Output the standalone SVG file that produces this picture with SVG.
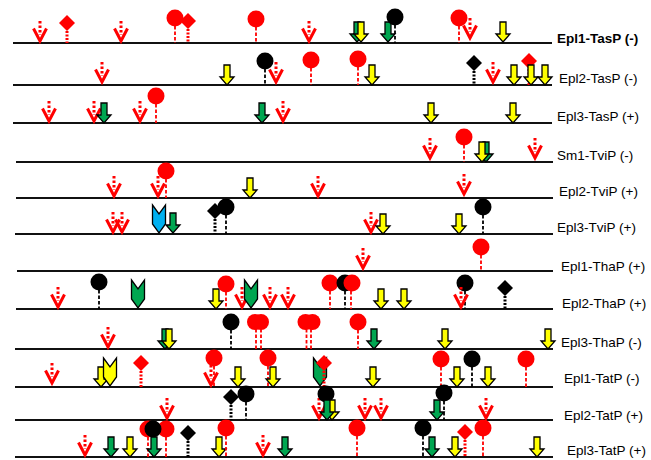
<svg xmlns="http://www.w3.org/2000/svg" width="651" height="460" viewBox="0 0 651 460">
<style>
.ln{stroke:#111;stroke-width:2}
.lb{font-family:"Liberation Sans",Arial,sans-serif;font-size:13.5px;fill:#000}
.rst{stroke:#f00;stroke-width:1.8;stroke-dasharray:3.5 2}
.kst{stroke:#000;stroke-width:1.8;stroke-dasharray:3.5 2}
.rdt{stroke:#f00;stroke-width:3;stroke-dasharray:2 1.5}
.kdt{stroke:#000;stroke-width:3;stroke-dasharray:2 1.5}
.rf{fill:#f00}
.kf{fill:#000}
</style>
<defs>
<path id="ya" d="M-3,-20H3V-8H7L0,0L-7,-8H-3Z" fill="#ffff00" stroke="#000" stroke-width="1.3"/>
<path id="ga" d="M-3,-20H3V-8H7L0,0L-7,-8H-3Z" fill="#00a651" stroke="#000" stroke-width="1.3"/>
<g id="ra"><line x1="0" y1="-22" x2="0" y2="-8" stroke="#f00" stroke-width="3" stroke-dasharray="2.5 2"/><path d="M-6.5,-14.5L0,-2L6.5,-14.5" fill="none" stroke="#f00" stroke-width="3"/></g>
<path id="chev" d="M-6.5,-28L0,-19L6.5,-28V-9L0,0L-6.5,-9Z" stroke="#000" stroke-width="1.3"/>
<path id="dm" d="M0,-8L8,0L0,8L-8,0Z"/>
</defs>

<g id="baselines">
<line class="ln" x1="13" y1="43" x2="552" y2="43"/>
<line class="ln" x1="13" y1="85" x2="552" y2="85"/>
<line class="ln" x1="13" y1="123" x2="552" y2="123"/>
<line class="ln" x1="16" y1="162" x2="553" y2="162"/>
<line class="ln" x1="16" y1="198" x2="553" y2="198"/>
<line class="ln" x1="15" y1="234" x2="553" y2="234"/>
<line class="ln" x1="17" y1="271" x2="553" y2="271"/>
<line class="ln" x1="16" y1="309" x2="553" y2="309"/>
<line class="ln" x1="15" y1="349" x2="553" y2="349"/>
<line class="ln" x1="15" y1="387" x2="553" y2="387"/>
<line class="ln" x1="15" y1="420" x2="553" y2="420"/>
<line class="ln" x1="15" y1="457" x2="553" y2="457"/>
</g>

<g id="row1">
<text class="lb" x="557" y="43" font-weight="bold">Epl1-TasP (-)</text>
<use href="#ra" x="40" y="43"/>
<line class="rdt" x1="67" y1="31" x2="67" y2="43"/><use href="#dm" x="67" y="23" fill="#f00"/>
<use href="#ra" x="121" y="43"/>
<line class="rst" x1="175" y1="26" x2="175" y2="43"/><circle class="rf" cx="175" cy="18" r="8.5"/>
<line class="rdt" x1="188" y1="29" x2="188" y2="43"/><use href="#dm" x="188" y="21" fill="#f00"/>
<line class="rst" x1="256" y1="27" x2="256" y2="43"/><circle class="rf" cx="256" cy="19" r="8.5"/>
<use href="#ra" x="309" y="43"/>
<use href="#ga" x="357" y="42"/><use href="#ya" x="361" y="42"/>
<use href="#ga" x="388" y="42"/>
<line class="kst" x1="395" y1="25" x2="395" y2="43"/><circle class="kf" cx="395" cy="17" r="8.5"/>
<line class="rst" x1="459" y1="26" x2="459" y2="43"/><circle class="rf" cx="459" cy="18" r="8.5"/>
<use href="#ra" x="470" y="40"/>
<use href="#ya" x="503" y="42"/>
</g>

<g id="row2">
<text class="lb" x="559" y="83">Epl2-TasP (-)</text>
<use href="#ra" x="102" y="84"/>
<use href="#ya" x="227" y="85"/>
<line class="kst" x1="265" y1="69" x2="265" y2="85"/><circle class="kf" cx="265" cy="61" r="8.5"/>
<use href="#ra" x="276" y="84"/>
<line class="rst" x1="311" y1="68" x2="311" y2="85"/><circle class="rf" cx="311" cy="60" r="8.5"/>
<line class="rst" x1="358" y1="67" x2="358" y2="85"/><circle class="rf" cx="358" cy="59" r="8.5"/>
<use href="#ya" x="372" y="85"/>
<line class="kdt" x1="474" y1="71" x2="474" y2="85"/><use href="#dm" x="474" y="63" fill="#000"/>
<use href="#ra" x="493" y="84"/>
<use href="#ya" x="514" y="85"/>
<line class="rdt" x1="529" y1="69" x2="529" y2="85"/><use href="#dm" x="529" y="61" fill="#f00"/>
<use href="#ya" x="531" y="85"/>
<use href="#ya" x="545" y="85"/>
</g>

<g id="row3">
<text class="lb" x="557" y="121">Epl3-TasP (+)</text>
<use href="#ra" x="49" y="123"/>
<use href="#ra" x="94" y="123"/>
<use href="#ga" x="104" y="123"/>
<use href="#ra" x="140" y="123"/>
<line class="rst" x1="156" y1="104" x2="156" y2="123"/><circle class="rf" cx="156" cy="96" r="8.5"/>
<use href="#ga" x="262" y="123"/>
<use href="#ra" x="283" y="123"/>
<use href="#ya" x="431" y="123"/>
<use href="#ya" x="513" y="123"/>
</g>

<g id="row4">
<text class="lb" x="557" y="160">Sm1-TviP (-)</text>
<use href="#ra" x="430" y="160"/>
<line class="rst" x1="464" y1="145" x2="464" y2="162"/><circle class="rf" cx="464" cy="137" r="8.5"/>
<use href="#ga" x="486" y="162"/><use href="#ya" x="482" y="162"/>
<use href="#ra" x="535" y="160"/>
</g>

<g id="row5">
<text class="lb" x="559" y="196">Epl2-TviP (+)</text>
<use href="#ra" x="114" y="198"/>
<use href="#ra" x="158" y="198"/>
<line class="rst" x1="166" y1="179" x2="166" y2="198"/><circle class="rf" cx="166" cy="171" r="8.5"/>
<use href="#ya" x="250" y="198"/>
<use href="#ra" x="318" y="198"/>
<use href="#ra" x="464" y="196"/>
</g>

<g id="row6">
<text class="lb" x="557" y="232">Epl3-TviP (+)</text>
<use href="#ra" x="113" y="234"/>
<use href="#ra" x="122" y="234"/>
<use href="#chev" x="159" y="233" fill="#00b0f0"/>
<use href="#ga" x="173" y="233"/>
<line class="kdt" x1="215" y1="219" x2="215" y2="234"/><use href="#dm" x="215" y="211" fill="#000"/>
<line class="kst" x1="226" y1="215" x2="226" y2="234"/><circle class="kf" cx="226" cy="207" r="8.5"/>
<use href="#ra" x="371" y="234"/>
<use href="#ya" x="383" y="234"/>
<use href="#ya" x="459" y="234"/>
<line class="kst" x1="483" y1="215" x2="483" y2="234"/><circle class="kf" cx="483" cy="207" r="8.5"/>
</g>

<g id="row7">
<text class="lb" x="561" y="271">Epl1-ThaP (+)</text>
<use href="#ra" x="363" y="270"/>
<line class="rst" x1="481" y1="255" x2="481" y2="271"/><circle class="rf" cx="481" cy="247" r="8.5"/>
</g>

<g id="row8">
<text class="lb" x="562" y="308">Epl2-ThaP (+)</text>
<use href="#ra" x="58" y="309"/>
<line class="kst" x1="99" y1="290" x2="99" y2="309"/><circle class="kf" cx="99" cy="282" r="8.5"/>
<use href="#chev" x="138" y="308" fill="#00a651"/>
<use href="#ya" x="216" y="309"/>
<line class="rst" x1="226" y1="292" x2="226" y2="309"/><circle class="rf" cx="226" cy="284" r="8.5"/>
<use href="#ra" x="242" y="309"/>
<use href="#chev" x="251" y="308" fill="#00a651"/>
<use href="#ra" x="270" y="309"/>
<use href="#ra" x="288" y="309"/>
<line class="rst" x1="330" y1="291" x2="330" y2="309"/><circle class="rf" cx="330" cy="283" r="8.5"/>
<line class="kst" x1="345" y1="291" x2="345" y2="309"/><circle class="kf" cx="345" cy="283" r="8.5"/>
<line class="rst" x1="351" y1="291" x2="351" y2="309"/><circle class="rf" cx="352" cy="283" r="8.5"/>
<use href="#ya" x="381" y="309"/>
<use href="#ya" x="404" y="309"/>
<line class="kst" x1="465" y1="291" x2="465" y2="309"/><circle class="kf" cx="465" cy="283" r="8.5"/>
<use href="#ra" x="461" y="309"/>
<line class="kdt" x1="505" y1="296" x2="505" y2="309"/><use href="#dm" x="505" y="288" fill="#000"/>
</g>

<g id="row9">
<text class="lb" x="561" y="347">Epl3-ThaP (-)</text>
<use href="#ra" x="108" y="349"/>
<use href="#ga" x="165" y="349"/><use href="#ya" x="169" y="349"/>
<line class="kst" x1="231" y1="330" x2="231" y2="349"/><circle class="kf" cx="231" cy="322" r="8.5"/>
<line class="rst" x1="256" y1="329" x2="256" y2="349"/><line class="rst" x1="261" y1="329" x2="261" y2="349"/>
<circle class="rf" cx="255" cy="322" r="8"/><circle class="rf" cx="261" cy="322" r="8"/>
<line class="rst" x1="306.5" y1="329" x2="306.5" y2="349"/><line class="rst" x1="311" y1="329" x2="311" y2="349"/>
<circle class="rf" cx="305.5" cy="322" r="8"/><circle class="rf" cx="312.5" cy="322" r="8"/>
<line class="rst" x1="358" y1="330" x2="358" y2="349"/><circle class="rf" cx="358" cy="322" r="8.5"/>
<use href="#ga" x="374" y="349"/>
<use href="#ya" x="445" y="349"/>
<use href="#ya" x="548" y="349"/>
</g>

<g id="row10">
<text class="lb" x="564" y="383">Epl1-TatP (-)</text>
<use href="#ra" x="52" y="385"/>
<use href="#ya" x="101" y="387"/>
<use href="#chev" x="110" y="386" fill="#ffff00"/>
<line class="rdt" x1="141" y1="371" x2="141" y2="387"/><use href="#dm" x="141" y="363" fill="#f00"/>
<line class="rst" x1="214" y1="366" x2="214" y2="387"/><circle class="rf" cx="214" cy="358" r="8.5"/>
<use href="#ra" x="211" y="387"/>
<use href="#ya" x="238" y="387"/>
<line class="rst" x1="268" y1="366" x2="268" y2="387"/><circle class="rf" cx="268" cy="358" r="8.5"/>
<use href="#ya" x="273" y="387"/>
<use href="#chev" x="320" y="386" fill="#00a651"/>
<line class="rdt" x1="324" y1="371" x2="324" y2="387"/><use href="#dm" x="324" y="363" fill="#f00"/>
<use href="#ya" x="373" y="387"/>
<line class="rst" x1="441" y1="367" x2="441" y2="387"/><circle class="rf" cx="441" cy="359" r="8.5"/>
<use href="#ya" x="457" y="387"/>
<line class="kst" x1="472" y1="367" x2="472" y2="387"/><circle class="kf" cx="472" cy="359" r="8.5"/>
<use href="#ya" x="488" y="387"/>
<line class="rst" x1="526" y1="367" x2="526" y2="387"/><circle class="rf" cx="526" cy="359" r="8.5"/>
</g>

<g id="row11">
<text class="lb" x="564" y="420">Epl2-TatP (+)</text>
<use href="#ra" x="167" y="420"/>
<line class="kdt" x1="231" y1="405" x2="231" y2="420"/><use href="#dm" x="231" y="397" fill="#000"/>
<line class="kst" x1="246" y1="402" x2="246" y2="420"/><circle class="kf" cx="246" cy="394" r="8.5"/>
<use href="#ra" x="319" y="420"/>
<line class="kst" x1="326" y1="401" x2="326" y2="420"/><circle class="kf" cx="326" cy="394" r="8.5"/>
<use href="#ya" x="332" y="420"/><use href="#ga" x="327" y="420"/>
<use href="#ra" x="365" y="420"/>
<use href="#ra" x="381" y="420"/>
<line class="kst" x1="444" y1="401" x2="444" y2="420"/><circle class="kf" cx="444" cy="393" r="8.5"/>
<use href="#ga" x="437" y="420"/>
<use href="#ra" x="486" y="420"/>
</g>

<g id="row12">
<text class="lb" x="567" y="455">Epl3-TatP (+)</text>
<use href="#ra" x="85" y="457"/>
<use href="#ga" x="111" y="457"/>
<use href="#ya" x="130" y="457"/>
<line class="rst" x1="148" y1="437" x2="148" y2="457"/><circle class="rf" cx="148" cy="429" r="8.5"/>
<line class="rst" x1="166" y1="437" x2="166" y2="457"/><circle class="rf" cx="166" cy="429" r="8.5"/>
<line class="kst" x1="153" y1="437" x2="153" y2="457"/><circle class="kf" cx="153" cy="429" r="8.5"/>
<use href="#ga" x="154" y="457"/>
<line class="kdt" x1="188" y1="441" x2="188" y2="457"/><use href="#dm" x="188" y="433" fill="#000"/>
<use href="#ya" x="219" y="457"/>
<line class="rst" x1="226" y1="436" x2="226" y2="457"/><circle class="rf" cx="226" cy="428" r="8.5"/>
<use href="#ra" x="263" y="457"/>
<use href="#ga" x="285" y="457"/>
<line class="rst" x1="357" y1="436" x2="357" y2="457"/><circle class="rf" cx="357" cy="428" r="8.5"/>
<line class="kst" x1="423" y1="436" x2="423" y2="457"/><circle class="kf" cx="423" cy="428" r="8.5"/>
<use href="#ga" x="432" y="457"/>
<use href="#ya" x="455" y="457"/>
<line class="rdt" x1="465" y1="440" x2="465" y2="457"/><use href="#dm" x="465" y="432" fill="#f00"/>
<line class="rst" x1="483" y1="436" x2="483" y2="457"/><circle class="rf" cx="483" cy="428" r="8.5"/>
<use href="#ya" x="537" y="457"/>
</g>
</svg>
